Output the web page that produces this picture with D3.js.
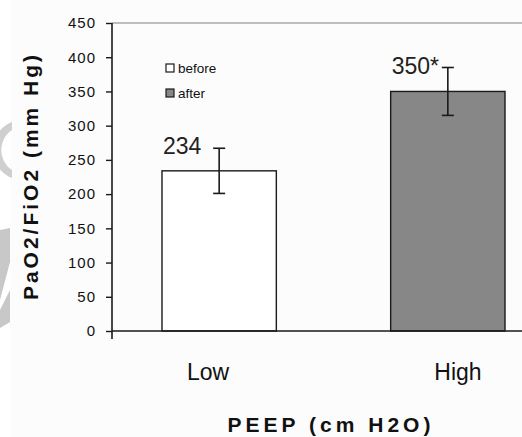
<!DOCTYPE html>
<html>
<head>
  <meta charset="utf-8">
  <script src="https://d3js.org/d3.v7.min.js"></script>
  <style>
    body { margin: 0; background: #ffffff; }
    svg { display: block; font-family: Arial, "Liberation Sans", sans-serif; }
    .tick-label { font-size: 15px; letter-spacing: 1px; fill: #111; }
    .cat-label { font-size: 23px; fill: #111; }
    .value-label { font-size: 23px; fill: #222; }
    .legend-text { font-size: 13.5px; fill: #111; }
    .axis-title { font-size: 21px; font-weight: bold; fill: #111; }
  </style>
</head>
<body>
  <svg width="522" height="437"></svg>
  <script>
    // chart values
    var categories = ["Low", "High"];
    var means = [234, 350];
    var errors = [33, 35];
    var valueLabels = ["234", "350*"];
    var barFills = ["#ffffff", "#878787"];
    var legendNames = ["before", "after"];
    var yTicks = [0, 50, 100, 150, 200, 250, 300, 350, 400, 450];

    var svg = d3.select("svg");
    var ink = "#1a1a1a";

    // faint background + watermark shapes
    svg.append("rect").attr("x", 0).attr("y", 0).attr("width", 522).attr("height", 437).attr("fill", "#ffffff");
    svg.append("rect").attr("x", 10).attr("y", 0).attr("width", 512).attr("height", 437).attr("fill", "#fcfcfc");
    svg.append("path")
      .attr("d", "M12,122 A30,30 0 0 0 12,178 L12,170 A24,24 0 0 1 12,130 Z")
      .attr("fill", "#cfcfcf");
    svg.append("path")
      .attr("d", "M0,230 L10,228 L10,262 L0,300 Z M0,310 L10,290 L10,322 L0,328 Z")
      .attr("fill", "#c8c8c8");

    var y = d3.scaleLinear().domain([0, 450]).range([331, 23]);
    var x = d3.scaleBand().domain(categories).range([162, 505]).paddingInner(0.5);
    var xLabel = d3.scalePoint().domain(categories).range([208, 458]);

    var data = categories.map(function(c, i) {
      return {cat: c, mean: means[i], err: errors[i], label: valueLabels[i], fill: barFills[i]};
    });

    // top frame line
    svg.append("line")
      .attr("x1", 112).attr("x2", 522)
      .attr("y1", y(450)).attr("y2", y(450))
      .attr("stroke", "#a8a8a8").attr("stroke-width", 1.6);

    // y axis
    var yAxis = svg.append("g")
      .attr("transform", "translate(112,0)")
      .call(d3.axisLeft(y).tickValues(yTicks).tickSize(6).tickPadding(10));
    yAxis.select(".domain").attr("stroke", ink).attr("stroke-width", 1.6).attr("d", "M0," + y(450) + "V" + (y(0) + 8));
    yAxis.selectAll(".tick line").attr("stroke", ink).attr("stroke-width", 1.4);
    yAxis.selectAll(".tick text").attr("class", "tick-label").attr("font-family", null).attr("font-size", null);

    // bars
    svg.selectAll(".bar")
      .data(data)
      .enter().append("rect")
        .attr("class", "bar")
        .attr("x", function(d) { return x(d.cat); })
        .attr("y", function(d) { return y(d.mean); })
        .attr("width", x.bandwidth())
        .attr("height", function(d) { return y(0) - y(d.mean); })
        .attr("fill", function(d) { return d.fill; })
        .attr("stroke", ink)
        .attr("stroke-width", 1.4);

    // x axis
    svg.append("line")
      .attr("x1", 112).attr("x2", 522)
      .attr("y1", y(0)).attr("y2", y(0))
      .attr("stroke", ink).attr("stroke-width", 1.6);

    // error bars
    var eb = svg.selectAll(".err").data(data).enter().append("g").attr("class", "err")
      .attr("stroke", ink).attr("stroke-width", 1.6);
    eb.append("line")
      .attr("x1", function(d) { return x(d.cat) + x.bandwidth() / 2; })
      .attr("x2", function(d) { return x(d.cat) + x.bandwidth() / 2; })
      .attr("y1", function(d) { return y(d.mean + d.err); })
      .attr("y2", function(d) { return y(d.mean - d.err); });
    [1, -1].forEach(function(s) {
      eb.append("line")
        .attr("x1", function(d) { return x(d.cat) + x.bandwidth() / 2 - 6; })
        .attr("x2", function(d) { return x(d.cat) + x.bandwidth() / 2 + 6; })
        .attr("y1", function(d) { return y(d.mean + s * d.err); })
        .attr("y2", function(d) { return y(d.mean + s * d.err); });
    });

    // value labels
    svg.selectAll(".value-label")
      .data(data)
      .enter().append("text")
        .attr("class", "value-label")
        .attr("x", function(d) { return x(d.cat) + 1; })
        .attr("y", function(d) { return y(d.mean) - 17; })
        .text(function(d) { return d.label; });

    // category labels
    svg.selectAll(".cat-label")
      .data(categories)
      .enter().append("text")
        .attr("class", "cat-label")
        .attr("x", function(d) { return xLabel(d); })
        .attr("y", 380)
        .attr("text-anchor", "middle")
        .text(function(d) { return d; });

    // legend
    var legend = svg.selectAll(".legend")
      .data(legendNames)
      .enter().append("g")
        .attr("class", "legend")
        .attr("transform", function(d, i) { return "translate(166," + (64 + i * 25) + ")"; });
    legend.append("rect")
      .attr("width", 8).attr("height", 8)
      .attr("fill", function(d, i) { return barFills[i]; })
      .attr("stroke", ink).attr("stroke-width", 1.2);
    legend.append("text")
      .attr("class", "legend-text")
      .attr("x", 12).attr("y", 9)
      .text(function(d) { return d; });

    // axis titles
    svg.append("text")
      .attr("class", "axis-title")
      .attr("x", 331).attr("y", 432)
      .attr("text-anchor", "middle")
      .style("letter-spacing", "4px")
      .text("PEEP (cm H2O)");

    svg.append("text")
      .attr("class", "axis-title")
      .attr("transform", "translate(38,176) rotate(-90)")
      .attr("text-anchor", "middle")
      .style("letter-spacing", "3px")
      .text("PaO2/FiO2 (mm Hg)");
  </script>
</body>
</html>
